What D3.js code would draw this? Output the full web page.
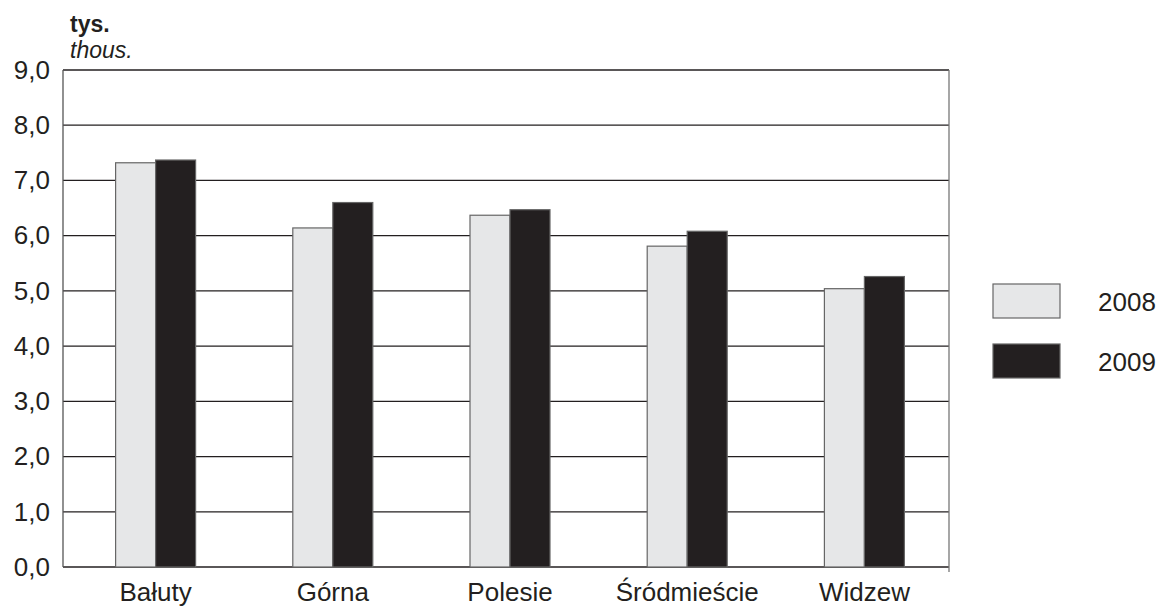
<!DOCTYPE html>
<html lang="pl">
  <head>
    <meta charset="utf-8">
    <title>tys. / thous.</title>
    <script type="text/javascript" src="https://d3js.org/d3.v7.min.js"></script>
    <style type="text/css">
    body {
      margin: 0;
      background: #ffffff;
    }
    text {
      font-family: "Liberation Sans", Arial, sans-serif;
      fill: #231f20;
    }
    .axisl path,
    .axisl line {
      display: none;
    }
    .axisl text,
    .axisb text {
      font-size: 26px;
      fill: #231f20;
    }
    .axisb path,
    .axisb line {
      display: none;
    }
    </style>
  </head>
  <body>
    <svg width="1160" height="609" id="chart"></svg>

    <script type="text/javascript">

    const districts = ["Bałuty", "Górna", "Polesie", "Śródmieście", "Widzew"];
    const years = ["2008", "2009"];
    const values2008 = [7.32, 6.14, 6.37, 5.81, 5.04];
    const values2009 = [7.37, 6.60, 6.47, 6.08, 5.26];
    const yTicks = [0, 1, 2, 3, 4, 5, 6, 7, 8, 9];

    const plotL = 63;
    const plotR = 949;
    const plotT = 70;
    const plotB = 567;

    const colors = {"2008": "#e6e7e8", "2009": "#231f20"};

    const rows = districts.map((d, i) => ({district: d, "2008": values2008[i], "2009": values2009[i]}));

    const svg = d3.select("#chart");

    const x0 = d3.scaleBand()
        .domain(districts)
        .range([plotL + 4, plotR + 4]);

    // two bars of ~40px in each band
    const groupW = 80;
    const x1 = d3.scaleBand()
        .domain(years)
        .range([(x0.bandwidth() - groupW) / 2, (x0.bandwidth() + groupW) / 2]);

    const y = d3.scaleLinear()
        .domain([0, 9])
        .range([plotB, plotT]);

    // gridlines
    svg.append("g")
        .selectAll("line")
        .data(yTicks)
        .join("line")
        .attr("x1", plotL)
        .attr("x2", plotR)
        .attr("y1", d => y(d))
        .attr("y2", d => y(d))
        .attr("stroke", "#231f20")
        .attr("stroke-width", 1.3);

    // frame left / right
    svg.append("line")
        .attr("x1", plotL).attr("x2", plotL)
        .attr("y1", plotT).attr("y2", plotB)
        .attr("stroke", "#555").attr("stroke-width", 1.3);
    svg.append("line")
        .attr("x1", plotR).attr("x2", plotR)
        .attr("y1", plotT).attr("y2", plotB + 5)
        .attr("stroke", "#777").attr("stroke-width", 1.3);

    // bars
    svg.append("g")
        .selectAll("g")
        .data(rows)
        .join("g")
        .attr("transform", d => "translate(" + x0(d.district) + ",0)")
        .selectAll("rect")
        .data(d => years.map(k => ({year: k, value: d[k]})))
        .join("rect")
        .attr("x", d => x1(d.year))
        .attr("y", d => y(d.value))
        .attr("width", x1.bandwidth())
        .attr("height", d => y(0) - y(d.value))
        .attr("fill", d => colors[d.year])
        .attr("stroke", "#666")
        .attr("stroke-width", 1.2);

    // y axis labels
    svg.append("g")
        .attr("class", "axisl")
        .attr("transform", "translate(" + plotL + ",0)")
        .call(d3.axisLeft(y).tickValues(yTicks).tickSize(0).tickPadding(13)
            .tickFormat(d => d3.format(".1f")(d).replace(".", ",")));

    // x axis labels
    svg.append("g")
        .attr("class", "axisb")
        .attr("transform", "translate(0," + plotB + ")")
        .call(d3.axisBottom(x0).tickSize(0).tickPadding(16));

    // unit labels
    svg.append("text")
        .attr("x", 70)
        .attr("y", 32)
        .attr("font-size", 23)
        .attr("font-weight", "bold")
        .text("tys.");
    svg.append("text")
        .attr("x", 70)
        .attr("y", 58)
        .attr("font-size", 23)
        .attr("font-style", "italic")
        .text("thous.");

    // legend
    const legend = svg.append("g")
        .selectAll("g")
        .data(years)
        .join("g")
        .attr("transform", (d, i) => "translate(993," + (284 + i * 60) + ")");

    legend.append("rect")
        .attr("width", 67)
        .attr("height", 34)
        .attr("fill", d => colors[d])
        .attr("stroke", "#666")
        .attr("stroke-width", 1.2);

    legend.append("text")
        .attr("x", 105)
        .attr("y", 17)
        .attr("dy", "0.4em")
        .attr("font-size", 26)
        .text(d => d);

    </script>
  </body>
</html>
